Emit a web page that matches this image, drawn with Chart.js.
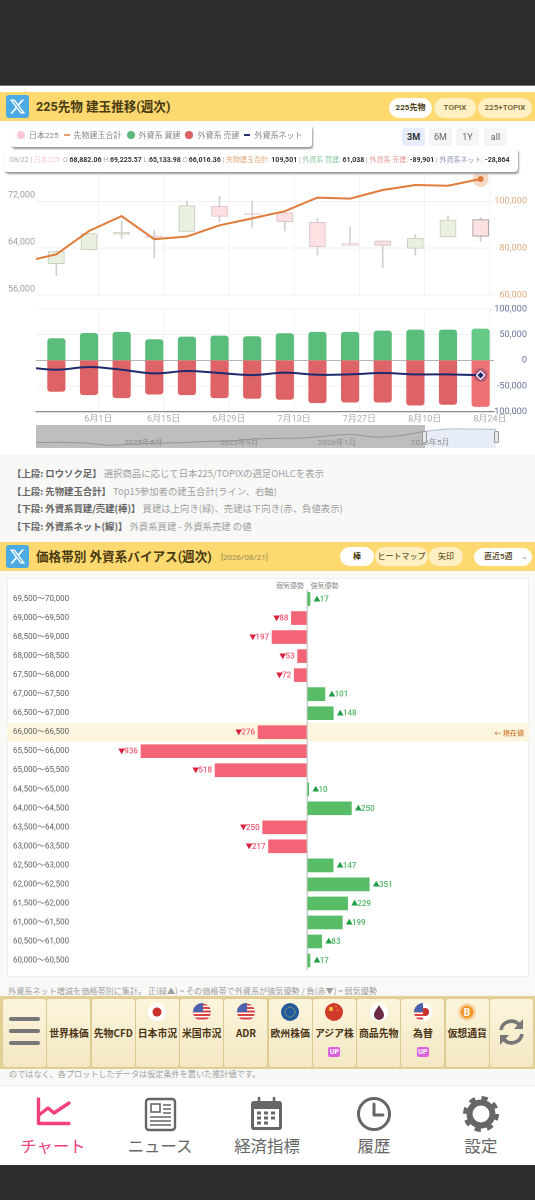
<!DOCTYPE html>
<html lang="ja"><head><meta charset="utf-8">
<script src="https://cdn.jsdelivr.net/npm/chart.js@4"></script>
<style>
*{box-sizing:border-box}
html,body{margin:0;padding:0;background:#fff}
body{width:535px;height:1200px;position:relative;overflow:hidden;font-family:Roboto,"Noto Sans CJK JP",sans-serif;color:#444}
.a{position:absolute;white-space:nowrap}
canvas{position:absolute;left:0}
.band{position:absolute;left:0;width:535px;background:#fdd96f}
.logo{position:absolute;left:6px;width:23px;height:23px;background:#4cabe2;border-radius:3px}
.logo svg{position:absolute;left:3px;top:3px;width:17px;height:17px;fill:#fff}
.title{position:absolute;left:36px;font:700 12.6px/20px Roboto,"Noto Sans CJK JP";color:#4a3a12;white-space:nowrap}
.pill{position:absolute;height:20px;border-radius:10px;background:#fef0c2;font:500 8px/20px Roboto,"Noto Sans CJK JP";text-align:center;color:#6a5a30;white-space:nowrap}
.pill.on{background:#fff;color:#4a3a12;font-weight:700}
.rng{position:absolute;top:128px;height:18px;width:23px;background:#f5f5f7;border-radius:3px;font:400 9px/18px Roboto;text-align:center;color:#666}
.rng.on{background:#e6ecfb;font-weight:700;color:#333}
.dot{display:inline-block;width:8px;height:8px;border-radius:50%;vertical-align:-1px;margin-right:4px}
.dash{display:inline-block;width:6px;height:1.5px;vertical-align:2.5px;margin-right:4px}
.lg span.t{margin-right:5px}
.note{position:absolute;left:12px;font:400 9.4px/14px "Noto Sans CJK JP",Roboto;color:#a0a0a0;white-space:nowrap}
.note b{color:#666;font-weight:700}
.cell{position:absolute;top:999px;width:43px;height:68px;border-radius:3px;background:linear-gradient(#fbf5dc,#f4e8c4);box-shadow:0 0 0 .5px #d9c78f}
.cell .lb{position:absolute;left:-3px;right:-3px;top:27px;text-align:center;font:700 9.9px/14px "Noto Sans CJK JP",Roboto;color:#4a3414}
.cell svg{position:absolute;left:12.5px;top:4px;width:18px;height:18px}
.up{position:absolute;left:15.5px;top:48px;width:12px;height:10px;border-radius:2px;background:#dc5fdf;color:#fff;font:700 7px/10px Roboto;text-align:center}
.nv{position:absolute;top:1134px;width:90px;text-align:center;font:400 16.4px/22px "Noto Sans CJK JP";color:#666}
.tp{position:absolute;left:3.5px;top:148px;width:514px;height:24px;background:#fff;border-radius:4px;box-shadow:1px 2px 2px #999;font:400 7px/24px Roboto,"Noto Sans CJK JP";white-space:nowrap;padding-left:6.5px;color:#aaa;z-index:5}
.tp b{color:#333;font-weight:700}
.sl{position:absolute;top:431px;width:5px;height:12px;background:#e8e8e8;border:1px solid #999;border-radius:1px;z-index:4}
.slb{position:absolute;top:436px;font:400 8px/13px Roboto,"Noto Sans CJK JP";color:#8f8f8f;z-index:4;white-space:nowrap}
</style></head><body>

<div class="a" style="left:0;top:0;width:535px;height:85px;background:#2c2c2c"></div>
<div class="a" style="left:0;top:85px;width:535px;height:1px;background:#6f756c"></div>
<div class="a" style="left:0;top:455px;width:535px;height:87px;background:#f8f8f7"></div>
<div class="a" style="left:0;top:571px;width:535px;height:425px;background:#f9f9f7"></div>
<div class="a" style="left:7px;top:578px;width:522px;height:399px;background:#fff;border:1px solid #eeeeea"></div>

<!-- section 1 header -->
<div class="band" style="top:92px;height:29px"></div>
<div class="logo" style="top:95px"><svg viewBox="0 0 24 24"><path d="M18.244 2.25h3.308l-7.227 8.26 8.502 11.24H16.17l-5.214-6.817L4.99 21.75H1.68l7.73-8.835L1.254 2.25H8.08l4.713 6.231zm-1.161 17.52h1.833L7.084 4.126H5.117z"/></svg></div>
<div class="title" style="top:97px">225先物 建玉推移(週次)</div>
<div class="pill on" style="left:389px;top:98px;width:43px">225先物</div>
<div class="pill" style="left:434px;top:98px;width:42px">TOPIX</div>
<div class="pill" style="left:478px;top:98px;width:54px">225+TOPIX</div>

<canvas id="upper" width="535" height="163" style="top:140px;width:535px;height:163px"></canvas>
<canvas id="lower" width="535" height="131" style="top:298px;width:535px;height:131px"></canvas>

<div class="a lg" style="left:11px;top:125px;width:301px;height:22px;background:#fff;border-radius:3px;box-shadow:1px 2px 2px #999;font:400 8px/22px Roboto,'Noto Sans CJK JP';color:#888;padding-left:6px;z-index:6">
<span class="dot" style="background:#f9c8d6"></span><span class="t">日本225</span><span class="dash" style="background:#e3a070"></span><span class="t">先物建玉合計</span><span class="dot" style="background:#5cbb7a"></span><span class="t">外資系 買建</span><span class="dot" style="background:#dc6165"></span><span class="t">外資系 売建</span><span class="dash" style="background:#23306f"></span><span class="t">外資系ネット</span></div>
<div class="rng on" style="left:402px">3M</div><div class="rng" style="left:429px">6M</div><div class="rng" style="left:456px">1Y</div><div class="rng" style="left:484px">all</div>

<div class="tp">08/22 | <span style="color:#f8cdd9">日本225:</span> O:<b>68,882.06</b> H:<b>69,225.57</b> L:<b>65,133.98</b> C:<b>66,016.36</b> | <span style="color:#e3a878">先物建玉合計:</span> <b>109,501</b> | <span style="color:#8ecba3">外資系 買建:</span> <b>61,038</b> | <span style="color:#e59a9c">外資系 売建:</span> <b>-89,901</b> | <span style="color:#8a93b5">外資系ネット:</span> <b>-28,864</b></div>

<!-- slider -->
<div class="a" style="left:36px;top:425px;width:389px;height:23px;background:#bebebe"></div>
<canvas id="slider" width="535" height="23" style="top:425px;width:535px;height:23px"></canvas>
<div class="slb" style="left:124px">2025年5月</div><div class="slb" style="left:220px">2025年9月</div><div class="slb" style="left:318px">2026年1月</div><div class="slb" style="left:411px">2026年5月</div>
<div class="sl" style="left:422px"></div><div class="sl" style="left:494px"></div>

<!-- notes -->
<div class="note" style="top:466px"><b>【上段: ロウソク足】</b> 選択商品に応じて日本225/TOPIXの週足OHLCを表示</div>
<div class="note" style="top:484px"><b>【上段: 先物建玉合計】</b> Top15参加者の建玉合計(ライン、右軸)</div>
<div class="note" style="top:501px"><b>【下段: 外資系買建/売建(棒)】</b> 買建は上向き(緑)、売建は下向き(赤、負値表示)</div>
<div class="note" style="top:519px"><b>【下段: 外資系ネット(線)】</b> 外資系買建 - 外資系売建 の値</div>

<!-- section 2 header -->
<div class="band" style="top:542px;height:29px"></div>
<div class="logo" style="top:545px"><svg viewBox="0 0 24 24"><path d="M18.244 2.25h3.308l-7.227 8.26 8.502 11.24H16.17l-5.214-6.817L4.99 21.75H1.68l7.73-8.835L1.254 2.25H8.08l4.713 6.231zm-1.161 17.52h1.833L7.084 4.126H5.117z"/></svg></div>
<div class="title" style="top:547px">価格帯別 外資系バイアス(週次)</div>
<div class="a" style="left:221px;top:552px;font:400 8px/12px Roboto;color:#9a8a5a">[2026/08/21]</div>
<div class="pill on" style="left:340px;top:547px;width:34px;height:19px;line-height:19px">棒</div>
<div class="pill" style="left:375px;top:547px;width:53px;height:19px;line-height:19px">ヒートマップ</div>
<div class="pill" style="left:429px;top:547px;width:34px;height:19px;line-height:19px">矢印</div>
<div class="pill on" style="left:474px;top:548px;width:58px;height:18px;line-height:18px;font-weight:500;text-align:left;padding-left:10px">直近5週<span style="position:absolute;right:4px;top:0;color:#999">⌄</span></div>
<div class="a" style="left:276px;top:579px;font:400 7px/12px 'Noto Sans CJK JP';color:#888">弱気優勢</div>
<div class="a" style="left:310.500px;top:579px;font:400 7px/12px 'Noto Sans CJK JP';color:#888">強気優勢</div>

<canvas id="bias" width="535" height="390" style="top:585px;width:535px;height:390px"></canvas>

<div class="a" style="left:8px;top:984px;font:400 8.15px/13px 'Noto Sans CJK JP';color:#a0a0a0">外資系ネット増減を価格帯別に集計。 正(緑▲) = その価格帯で外資系が強気優勢 / 負(赤▼) = 弱気優勢</div>

<!-- menu -->
<div class="a" style="left:0;top:996px;width:535px;height:73px;background:#e4cf95;box-shadow:0 2px 5px rgba(0,0,0,.12)"></div>
<div id="menu"></div>
<div class="a" style="left:0;top:1069px;width:535px;height:16px;background:#f8f8f7"></div>
<div class="a" style="left:9px;top:1067px;font:400 8.15px/13px 'Noto Sans CJK JP';color:#a0a0a0;height:13px">のではなく、各プロットしたデータは仮定条件を置いた推計値です。</div>
<div class="a" style="left:0;top:1085px;width:535px;height:80px;background:#fff;border-top:1px solid #eee"></div>

<!-- nav icons -->
<svg class="a" style="left:0;top:1090px" width="535" height="48" fill="none">
 <path d="M38.5 9V33.5H69M39 25l9 -7 6 5 15-10" stroke="#f2407f" stroke-width="3.4" stroke-linecap="round" stroke-linejoin="round"/>
 <rect x="146" y="9" width="29" height="31" rx="3" stroke="#666" stroke-width="2.4"/>
 <rect x="151" y="14" width="9" height="8" stroke="#666" stroke-width="1.6"/>
 <path d="M163 15h8M163 19h8M163 23h8M150 27h21M150 31h21M150 35h21" stroke="#666" stroke-width="1.6"/>
 <rect x="251" y="11" width="31" height="29" rx="3" fill="#666"/><rect x="254" y="19" width="25" height="18" fill="#fff"/>
 <path d="M259 8v6M274 8v6" stroke="#666" stroke-width="2.6" stroke-linecap="round"/>
 <path d="M257 23h4M264 23h4M271 23h4M257 28h4M264 28h4M271 28h4M257 33h4M264 33h4" stroke="#666" stroke-width="3"/>
 <circle cx="374" cy="24" r="15.5" stroke="#666" stroke-width="3"/><path d="M374 14v11h9" stroke="#666" stroke-width="3" stroke-linecap="round" stroke-linejoin="round"/>
 <circle cx="481" cy="24" r="11.5" stroke="#666" stroke-width="6"/><circle cx="481" cy="24" r="16" stroke="#666" stroke-width="4" stroke-dasharray="6.2 6.37"/>
</svg>
<div class="nv" style="left:8px;color:#f2407f">チャート</div>
<div class="nv" style="left:115px">ニュース</div>
<div class="nv" style="left:222px">経済指標</div>
<div class="nv" style="left:329px">履歴</div>
<div class="nv" style="left:436px">設定</div>
<div class="a" style="left:0;top:1165px;width:535px;height:35px;background:#2c2c2c"></div>

<script>
// ---- weekly data (upper / lower panels) ----
const weekDates   = ["05/23","05/30","06/06","06/13","06/20","06/27","07/04","07/11","07/18","07/25","08/01","08/08","08/15","08/22"];
const candleOpen  = [61345,63713,66400,66080,66825,71150,69870,70040,68400,64730,65230,63950,65910,68882.06];
const candleClose = [63440,66486,66700,65810,71270,69410,69700,68520,64220,64500,64460,65690,68790,66016.36];
const candleHigh  = [63500,66486,68787,67044,72000,72850,72000,70100,69125,67670,65230,66320,69530,69225.57];
const candleLow   = [59300,63713,65640,62360,66825,68450,67600,66930,62870,64500,60620,62820,65900,65133.98];
const oiTotal     = [77340,87300,93660,83800,84950,89730,92700,95770,101560,101140,104800,106930,106640,109501];
const foreignBuy  = [42300,52700,54700,40400,45500,47500,46200,52100,54700,54700,57300,59200,59200,61038];
const foreignSell = [-60500,-67000,-72900,-65800,-67000,-72900,-74200,-76200,-82700,-81400,-81400,-87300,-85900,-89901];
const foreignNet  = [-18200,-13000,-18200,-25400,-20800,-24700,-28700,-24000,-28000,-27300,-24700,-27300,-27300,-28864];
// week before the visible window (the lines run in from the left edge)
const priorDate = "05/16", priorOi = 74170, priorNet = -13000;
const axisTickDates  = ["06/01","06/15","06/29","07/13","07/27","08/10","08/24"];
const axisTickLabels = ["6月1日","6月15日","6月29日","7月13日","7月27日","8月10日","8月24日"];
// ---- range slider overview ----
const overviewMonths = ["25-01","25-02","25-03","25-04","25-05","25-06","25-07","25-08","25-09","25-10","25-11","25-12","26-01","26-02","26-03","26-04","26-05","26-06","26-07","26-08"];
const overviewValues = [54100,55300,52900,44200,49100,52900,54100,59000,60200,67600,70100,71300,78700,84900,75000,79900,94700,104600,104600,103300];
// ---- price band bias ----
const priceBands = ["69,500〜70,000","69,000〜69,500","68,500〜69,000","68,000〜68,500","67,500〜68,000","67,000〜67,500","66,500〜67,000","66,000〜66,500","65,500〜66,000","65,000〜65,500","64,500〜65,000","64,000〜64,500","63,500〜64,000","63,000〜63,500","62,500〜63,000","62,000〜62,500","61,500〜62,000","61,000〜61,500","60,500〜61,000","60,000〜60,500"];
const bandBias = [17,-88,-197,-53,-72,101,148,-276,-936,-518,10,250,-250,-217,147,351,229,199,83,17];
const currentBand = "66,000〜66,500";
const currentLabel = "← 現在値";

// ---- menu ----
const US='<clipPath id="cu"><circle cx="9" cy="9" r="9"/></clipPath><g clip-path="url(#cu)"><rect width="18" height="18" fill="#fff"/><path d="M0 1.5h18M0 5h18M0 8.500h18M0 12h18M0 15.500h18" stroke="#d8433f" stroke-width="1.8"/><rect width="10" height="9" fill="#4a62b0"/></g>';
const flags={
 jp:'<circle cx="9" cy="9" r="9" fill="#fff"/><circle cx="9" cy="9" r="4.500" fill="#c9302c"/>',
 us:US,
 eu:'<circle cx="9" cy="9" r="9" fill="#23599e"/><circle cx="9" cy="9" r="5" fill="none" stroke="#8a9c5a" stroke-width="1.300" stroke-dasharray="1.300 1.300"/>',
 cn:'<circle cx="9" cy="9" r="9" fill="#cf3a2a"/><circle cx="6" cy="6" r="2.200" fill="#f0c040"/><circle cx="11" cy="3.500" r=".8" fill="#f0c040"/><circle cx="12.500" cy="7" r=".8" fill="#f0c040"/>',
 oil:'<circle cx="9" cy="9" r="9" fill="#fff"/><path d="M9 2c2 4 5 6.500 5 10a5 5 0 0 1-10 0c0-3.500 3-6 5-10z" fill="#6d2a48"/>',
 fx:'<clipPath id="cf"><rect width="9" height="18"/></clipPath><circle cx="9" cy="9" r="9" fill="#fff"/><circle cx="11" cy="9" r="4" fill="#c9302c"/><g clip-path="url(#cf)">'+US.replace('id="cu"','id="cu2"').replace('#cu','#cu2')+'</g>',
 btc:'<circle cx="9" cy="9" r="9" fill="#f7d6a8"/><circle cx="9" cy="9" r="6.500" fill="#f2972c"/><text x="9" y="12.500" text-anchor="middle" font-size="10" font-weight="700" fill="#fff" font-family="Roboto">B</text>'
};
const menuLabels=[["",""],["世界株価",""],["先物CFD",""],["日本市況","jp"],["米国市況","us"],["ADR","us"],["欧州株価","eu"],["アジア株","cn",1],["商品先物","oil"],["為替","fx",1],["仮想通貨","btc"],["",""]];
let mh='';
menuLabels.forEach((m,i)=>{
  let inner='';
  if(i===0) inner='<svg style="left:5px;top:17px;width:33px;height:32px" viewBox="0 0 33 32"><path d="M3 3h27M3 15h27M3 27h27" stroke="#777" stroke-width="4.200" stroke-linecap="round"/></svg>';
  else if(i===11) inner='<svg style="left:8px;top:19px;width:27px;height:28px" viewBox="0 0 27 28" fill="none"><path d="M3 12a10.500 10.500 0 0 1 18.500-5" stroke="#777" stroke-width="3.600"/><path d="M24 16a10.500 10.500 0 0 1-18.500 5" stroke="#777" stroke-width="3.600"/><path d="M25 1v10h-9zM2 27v-10h9z" fill="#777"/></svg>';
  else {
    if(m[1]) inner+='<svg viewBox="0 0 18 18">'+flags[m[1]]+'</svg>';
    inner+='<div class="lb">'+m[0]+'</div>';
    if(m[2]) inner+='<div class="up">UP</div>';
  }
  mh+='<div class="cell" style="left:'+(3.2+i*44.25)+'px">'+inner+'</div>';
});
document.getElementById('menu').innerHTML=mh;

// ---- helpers ----
const toDay = s => { const [m,d]=s.split('/').map(Number); return Date.UTC(2026,m-1,d)/864e5; };
const days = weekDates.map(toDay);
const xMin = days[0]-4.37, xMax = days[days.length-1]+2.87;
const tickDays = axisTickDates.map(toDay);
const lastIdx = weekDates.length-1;
const fmt = v => Number(v).toLocaleString('en-US');
const FONT = 'Roboto,"Noto Sans CJK JP",sans-serif';
const noPad = s => {s.paddingTop=0;s.paddingBottom=0;s.paddingLeft=0;s.paddingRight=0;};
const xAxis = (showLabels, h) => ({
  type:'linear', min:xMin, max:xMax, position:'bottom', offset:false,
  afterBuildTicks:s=>{s.ticks=tickDays.map(v=>({value:v}));},
  afterFit:s=>{s.height=h;noPad(s);},
  grid:{color:'#f3f3f3',lineWidth:1,drawTicks:false,offset:false},
  border:{display:showLabels,color:'#8a8a8a',width:1.2},
  ticks:{display:showLabels,autoSkip:false,maxRotation:0,padding:2,color:'#aaa',font:{family:FONT,size:9},
    callback:v=>axisTickLabels[tickDays.indexOf(v)]}
});
const crosshair = (y0,y1) => ({id:'cross',afterDatasetsDraw(c){
  const x=c.scales.x.getPixelForValue(days[lastIdx]),g=c.ctx;
  g.save();g.strokeStyle='#bdbdbd';g.lineWidth=1;g.beginPath();g.moveTo(x,y0);g.lineTo(x,y1);g.stroke();g.restore();
}});
const base = {responsive:false,animation:false,events:[],devicePixelRatio:2,plugins:{legend:{display:false},tooltip:{enabled:false}}};

// ---- upper panel: candles + open interest ----
const isUp = i => candleClose[i]>=candleOpen[i];
new Chart(document.getElementById('upper'),{
  type:'bar',
  data:{datasets:[
    {label:'先物建玉合計 halo',type:'line',yAxisID:'y1',order:1,data:[{x:days[lastIdx],y:oiTotal[lastIdx]}],showLine:false,pointRadius:8,pointBackgroundColor:'rgba(224,123,57,.28)',pointBorderWidth:0},
    {label:'先物建玉合計',type:'line',yAxisID:'y1',order:0,
     data:[{x:toDay(priorDate),y:priorOi}].concat(days.map((d,i)=>({x:d,y:oiTotal[i]}))),
     borderColor:'#e07b39',borderWidth:2,tension:0,
     pointRadius:c=>c.dataIndex===days.length?3:0,pointBackgroundColor:'#e07b39',pointBorderWidth:0},
    {label:'日本225 body',yAxisID:'y',order:3,grouped:false,barThickness:16,borderWidth:1,borderSkipped:false,
     data:days.map((d,i)=>({x:d,y:[candleOpen[i],candleClose[i]]})),
     backgroundColor:c=>isUp(c.dataIndex)?'#e9f0e0':'#fce0e2',
     borderColor:c=>c.dataIndex===lastIdx?'#a89a9c':(isUp(c.dataIndex)?'#c9d0c0':'#d8c4c6')},
    {label:'日本225 wick',yAxisID:'y',order:4,grouped:false,barThickness:1,borderWidth:0,
     data:days.map((d,i)=>({x:d,y:[candleLow[i],candleHigh[i]]})),
     backgroundColor:'#cfd2cc'}
  ]},
  options:{...base,layout:{padding:{left:0,right:8,top:14.4,bottom:6.6}},
    scales:{
      x:xAxis(false,0),
      y:{position:'left',min:56000,max:80000,afterFit:s=>{s.width=36;noPad(s);},
         grid:{color:'#f1f1f1',drawTicks:false},border:{display:false},
         ticks:{stepSize:8000,padding:1,labelOffset:-6,color:'#a0a0a0',font:{family:FONT,size:9},callback:v=>v>72000?'':fmt(v)}},
      y1:{position:'right',min:60000,max:120000,afterFit:s=>{s.width=33;noPad(s);},
         grid:{display:false},border:{display:false},
         ticks:{stepSize:20000,crossAlign:'far',color:'#e2aa80',font:{family:FONT,size:9.2},callback:v=>v>100000?'':fmt(v)}}
    }},
  plugins:[crosshair(172,296.400)]
});

// ---- lower panel: foreign positions ----
new Chart(document.getElementById('lower'),{
  type:'bar',
  data:{datasets:[
    {label:'ネット halo',type:'line',order:1,data:[{x:days[lastIdx],y:foreignNet[lastIdx]}],showLine:false,pointRadius:7,pointBackgroundColor:'rgba(60,50,120,.32)',pointBorderWidth:0},
    {label:'外資系ネット',type:'line',order:0,
     data:[{x:toDay(priorDate),y:priorNet}].concat(days.map((d,i)=>({x:d,y:foreignNet[i]}))),
     borderColor:'#1e2a6e',borderWidth:2,tension:.35,
     pointRadius:c=>c.dataIndex===days.length?4:0,pointStyle:'rectRot',pointBackgroundColor:'#1e2a6e',pointBorderColor:'#fff',pointBorderWidth:1.200},
    {label:'外資系 買建',order:3,grouped:false,barThickness:17.500,borderRadius:3,
     data:days.map((d,i)=>({x:d,y:foreignBuy[i]})),
     backgroundColor:c=>c.dataIndex===lastIdx?'#67cb88':'#5bbd7c'},
    {label:'外資系 売建',order:3,grouped:false,barThickness:17.500,borderRadius:3,
     data:days.map((d,i)=>({x:d,y:foreignSell[i]})),
     backgroundColor:c=>c.dataIndex===lastIdx?'#ee7274':'#de6366'}
  ]},
  options:{...base,layout:{padding:{left:36,right:8,top:11,bottom:0}},
    scales:{
      x:xAxis(true,17.300),
      y:{position:'right',min:-100000,max:100000,afterFit:s=>{s.width=33;noPad(s);},
         grid:{drawTicks:false,lineWidth:1,color:c=>c.tick.value===0?'#b5b5b5':'#f1f1f1'},border:{display:false},
         ticks:{stepSize:50000,crossAlign:'far',color:'#66739c',font:{family:FONT,size:9.2},callback:fmt}}
    }},
  plugins:[crosshair(309,420)]
});

// ---- slider overview ----
const sliderSplit = 425;
new Chart(document.getElementById('slider'),{
  type:'line',
  data:{labels:overviewMonths,datasets:[{data:overviewValues,tension:.25,pointRadius:0,borderWidth:1,fill:'origin',
    borderColor:c=>{const a=c.chart.chartArea;if(!a)return '#999';const g=c.chart.ctx.createLinearGradient(a.left,0,a.right,0);const p=(sliderSplit-a.left)/(a.right-a.left);g.addColorStop(0,'#93969f');g.addColorStop(p,'#93969f');g.addColorStop(p,'#aebcd2');g.addColorStop(1,'#aebcd2');return g;},
    backgroundColor:c=>{const a=c.chart.chartArea;if(!a)return 'transparent';const g=c.chart.ctx.createLinearGradient(a.left,0,a.right,0);const p=(sliderSplit-a.left)/(a.right-a.left);g.addColorStop(0,'rgba(0,0,0,0)');g.addColorStop(p,'rgba(0,0,0,0)');g.addColorStop(p,'#e7edf6');g.addColorStop(1,'#e7edf6');return g;}
  }]},
  options:{...base,layout:{padding:{left:36,right:39,top:0,bottom:0}},
    scales:{x:{display:false,offset:false},y:{display:false,min:34400,max:119500}}}
});

// ---- price band bias ----
const biasLabels = {id:'biasLabels',
  beforeDatasetsDraw(c){
    const y=c.scales.y,g=c.ctx,i=priceBands.indexOf(currentBand),py=y.getPixelForTick(i);
    g.save();g.fillStyle='#fdf6df';g.globalCompositeOperation='destination-over';g.fillRect(7,py-9.2,522,18.4);g.restore();
    g.save();g.fillStyle='#c8732c';g.font='500 7px "Noto Sans CJK JP"';g.textAlign='right';g.textBaseline='middle';g.fillText(currentLabel,524,py+.5);g.restore();
  },
  afterDatasetsDraw(c){
    const x=c.scales.x,y=c.scales.y,g=c.ctx;
    g.save();g.textBaseline='middle';g.font='500 8px '+FONT;
    bandBias.forEach((v,i)=>{
      const px=x.getPixelForValue(v),py=y.getPixelForTick(i)+.5,n=String(Math.abs(v)),up=v>=0;
      const mark=up?'▲':'▼',mw=6.2,nw=g.measureText(n).width;
      const sx=up?px+3.5:px-3-nw-mw;
      g.fillStyle=up?'#1f9d45':'#d8203f';g.font='500 7px '+FONT;g.textAlign='left';g.fillText(mark,sx,py);
      g.fillStyle=up?'#4cb562':'#ee5570';g.font='500 8px '+FONT;g.fillText(n,sx+mw,py);
    });
    g.restore();
  }
};
new Chart(document.getElementById('bias'),{
  type:'bar',
  data:{labels:priceBands,datasets:[{data:bandBias,barThickness:13,borderSkipped:false,
    backgroundColor:c=>c.raw>=0?'#58bd66':'#f36576'}]},
  options:{...base,indexAxis:'y',layout:{padding:{left:7,right:8,top:4.500,bottom:5}},
    scales:{
      x:{type:'linear',min:-1691,max:1240,afterBuildTicks:s=>{s.ticks=[{value:0}];},afterFit:s=>{s.height=0;noPad(s);},
         grid:{color:'#cfcfcf',lineWidth:1.500,drawTicks:false},border:{display:false},ticks:{display:false}},
      y:{afterFit:s=>{s.width=0;noPad(s);},grid:{display:false},border:{display:false},
         ticks:{mirror:true,padding:6,autoSkip:false,color:'#5c5c5c',font:{family:FONT,size:8}}}
    }},
  plugins:[biasLabels]
});
</script>
</body></html>
